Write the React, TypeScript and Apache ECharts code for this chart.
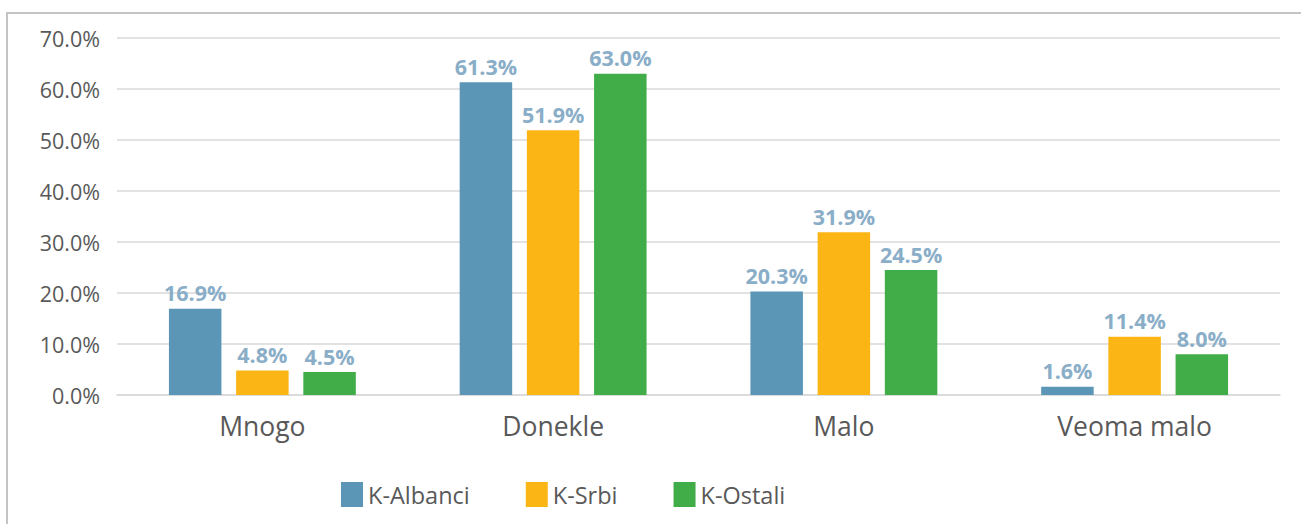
import React, { useEffect, useRef } from "react";
import * as echarts from "echarts";

const categories = ["Mnogo", "Donekle", "Malo", "Veoma malo"];
const seriesNames = ["K-Albanci", "K-Srbi", "K-Ostali"];
const albanci = [16.9, 61.3, 20.3, 1.6];
const srbi = [4.8, 51.9, 31.9, 11.4];
const ostali = [4.5, 63.0, 24.5, 8.0];
const colors = ["#5b96b6", "#fbb616", "#41ad49"];

const FONT = "'Open Sans', 'Noto Sans', sans-serif";

export default function App() {
  const ref = useRef<HTMLDivElement>(null);
  useEffect(() => {
    if (!ref.current) return;
    const chart = echarts.init(ref.current, undefined, { renderer: "svg" });
    const values = [albanci, srbi, ostali];
    chart.setOption({
      animation: false,
      textStyle: { fontFamily: FONT },
      graphic: [
        {
          type: "rect",
          shape: { x: 7, y: 13, width: 1400, height: 600 },
          style: { fill: "none", stroke: "#c4c4c4", lineWidth: 2 },
          silent: true,
        },
      ],
      grid: { left: 117, right: 21, top: 38, bottom: 129 },
      legend: {
        data: seriesNames,
        left: 336,
        top: 477,
        itemWidth: 22,
        itemHeight: 25,
        itemGap: 56,
        icon: "rect",
        textStyle: { fontFamily: FONT, fontSize: 23.5, color: "#595959" },
      },
      xAxis: {
        type: "category",
        data: categories,
        axisLine: { lineStyle: { color: "#d9d9d9", width: 1.5 } },
        axisTick: { show: false },
        axisLabel: { fontFamily: FONT, fontSize: 26.5, color: "#595959", margin: 17 },
      },
      yAxis: {
        type: "value",
        min: 0,
        max: 70,
        interval: 10,
        axisLine: { show: false },
        axisTick: { show: false },
        splitLine: { lineStyle: { color: "#d9d9d9", width: 1.5 } },
        axisLabel: {
          fontFamily: FONT,
          fontSize: 21.5,
          color: "#595959",
          margin: 17,
          formatter: (v: number) => v.toFixed(1) + "%",
        },
      },
      series: seriesNames.map((name, i) => ({
        name,
        type: "bar",
        data: values[i],
        barWidth: 52.5,
        barGap: "28%",
        itemStyle: { color: colors[i] },
        label: {
          show: true,
          position: "top",
          distance: 5,
          fontFamily: FONT,
          fontSize: 21.5,
          fontWeight: "bold",
          color: "#8aaec8",
          formatter: (p: any) => Number(p.value).toFixed(1) + "%",
        },
      })),
    });
    return () => chart.dispose();
  }, []);
  return (
    <div
      ref={ref}
      style={{ position: "fixed", left: 0, top: 0, width: 1301, height: 524, background: "#fff" }}
    />
  );
}
